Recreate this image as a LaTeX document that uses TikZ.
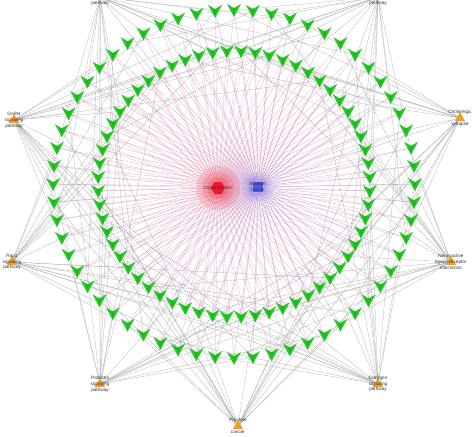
\documentclass[tikz,border=0pt]{standalone}
\usepackage{fontspec}
\setmainfont{Liberation Sans}
\usetikzlibrary{shapes.geometric,backgrounds}
\definecolor{veegreen}{RGB}{40,200,40}
\definecolor{pwyorange}{RGB}{242,158,28}
\definecolor{disred}{RGB}{245,20,40}
\definecolor{disblue}{RGB}{70,90,245}
\definecolor{lavender}{RGB}{150,120,215}

\begin{document}
\begin{tikzpicture}[x=0.03cm, y=0.03cm,
    font=\fontsize{4}{5}\selectfont,
    pwy/.style={regular polygon, regular polygon sides=3, fill=pwyorange,
                minimum size=10pt, inner sep=0pt},
    pwytext/.style={align=center, inner sep=0pt, text=black!80},
    tgt/.style={inner sep=0pt, minimum size=5pt},
    vee/.pic={\fill[veegreen] (-7,6) -- (0,2) -- (7,6) -- (0,-7) -- cycle;
              \fill[green!50!black, opacity=0.25] (-2,2.5) -- (0,1.5) -- (2,2.5) -- (0,-5) -- cycle;},
    rline/.style={draw=disred!55, line width=0.25pt, opacity=0.65},
    bline/.style={draw=lavender, line width=0.25pt, opacity=0.6},
    gline/.style={draw=gray!70, line width=0.25pt, opacity=0.85},
    ]
\useasboundingbox (-234,-252) rectangle (238,184);

% disease halos
\foreach \r in {22,16,11} {
  \fill[disred, opacity=0.14] (-16,-4) circle (\r);
  \fill[disblue, opacity=0.08] (24,-3) circle (\r*0.7);
}
\node[regular polygon, regular polygon sides=6, fill=disred, minimum size=12pt,
      inner sep=0pt] (dis) at (-16,-4) {};
\node[fill=disblue, minimum size=9pt, inner sep=0pt] (can) at (24,-3) {};
\node[pwytext] at (dis) {Osteoarthritis};
\node[pwytext] at (can) {Bladder\\cancer};

% targets, outer and inner ring
\foreach \j in {0,...,59} {
  \pgfmathsetmacro\a{90-6*\j}
  \path (\a:181 and 174) node[tgt] (o\j) {} pic {vee};
  \pgfmathsetmacro\b{87-6*\j}
  \path (\b:136 and 133) node[tgt] (n\j) {} pic {vee};
}

% pathways
\node[pwy, label={[pwytext, yshift=-5pt]center:pathway}] (pa) at (-134,187) {};
\node[pwy, label={[pwytext, yshift=-5pt]center:pathway}] (pb) at (144,187) {};
\node[pwy, label={[pwytext]center:GnRH\\signaling\\pathway}] (pc) at (-220,64) {};
\node[pwy, label={[pwytext]center:Cholinergic\\\\synapse}] (pd) at (226,66) {};
\node[pwy, label={[pwytext]center:Rap1\\signaling\\pathway}] (pe) at (-222,-78) {};
\node[pwy, label={[pwytext]center:Neuroactive\\ligand-receptor\\interaction}] (pf) at (217,-78) {};
\node[pwy, label={[pwytext]center:Prolactin\\signaling\\pathway}] (pg) at (-134,-200) {};
\node[pwy, label={[pwytext]center:Prostate\\\\cancer}] (ph) at (4,-242) {};
\node[pwy, label={[pwytext]center:Estrogen\\signaling\\pathway}] (pi) at (144,-200) {};

\begin{pgfonlayer}{background}
\foreach \j in {0,...,59} {
  \draw[rline] (dis) -- (o\j);
  \draw[rline] (dis) -- (n\j);
  \draw[bline] (can) -- (o\j);
  \draw[bline] (can) -- (n\j);
}
\foreach \p/\ang [count=\k] in {pa/126,pb/52,pc/164,pd/16,pe/199,pf/341,pg/236,ph/271,pi/306} {
  \foreach \j in {0,...,59} {
    \pgfmathsetmacro\co{cos(90-6*\j-\ang)}
    \pgfmathtruncatemacro\mo{mod(\j*7+\k*3,4)}
    \ifdim\co pt>-0.45pt \ifnum\mo=0 \draw[gline] (\p) -- (o\j); \fi\fi
    \pgfmathsetmacro\ci{cos(87-6*\j-\ang)}
    \pgfmathtruncatemacro\mi{mod(\j*11+\k*2,4)}
    \ifdim\ci pt>-0.45pt \ifnum\mi=0 \draw[gline] (\p) -- (n\j); \fi\fi
  }
}
\end{pgfonlayer}
\end{tikzpicture}
\end{document}
